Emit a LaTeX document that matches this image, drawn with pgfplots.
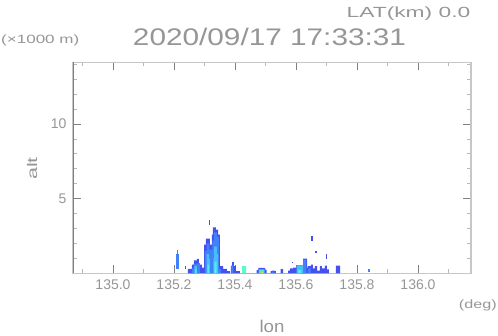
\documentclass[border=0pt]{standalone}
\usepackage{fontspec}
\setmainfont{Liberation Sans}
\usepackage{pgfplots}
\pgfplotsset{compat=1.18}
\definecolor{txt}{RGB}{150,150,150}
\definecolor{cA}{RGB}{70,80,240}
\definecolor{cB}{RGB}{65,130,250}
\definecolor{cC}{RGB}{70,190,250}
\definecolor{cD}{RGB}{80,235,240}
\definecolor{cE}{RGB}{90,250,205}
\definecolor{cF}{RGB}{110,230,100}
\definecolor{cG}{RGB}{225,230,60}
\begin{document}
\begin{tikzpicture}[x=1pt,y=1pt]
\useasboundingbox (0,0) rectangle (498,336);
\begin{axis}[
  at={(73pt,62.5pt)}, anchor=south west,
  scale only axis, width=398pt, height=211pt,
  xmin=134.8689, xmax=136.1738, ymin=0, ymax=14.1,
  xtick={135,135.2,135.4,135.6,135.8,136},
  minor xtick={134.9,135.1,135.3,135.5,135.7,135.9,136.1},
  ytick={5,10},
  minor ytick={1,2,3,4,6,7,8,9,11,12,13,14},
  /pgf/number format/assume math mode=true,
  xticklabel style={/pgf/number format/fixed, /pgf/number format/fixed zerofill, /pgf/number format/precision=1, yshift=-3pt},
  yticklabel style={xshift=-3pt},
  tick label style={font=\fontsize{14}{14}\selectfont, text=txt},
  tick align=inside, major tick length=8pt, minor tick length=4pt,
  every major tick/.append style={draw=black!50, line width=0.6pt},
  every minor tick/.append style={draw=black!28, line width=0.6pt},
  axis line style={draw=black!22, line width=1.6pt},
  no markers,
  every axis plot/.append style={draw=none},
]
% ---- outer dark blue
\addplot[fill=cA, const plot] coordinates {
(135.2459,0.31) (135.2590,0.6) (135.2656,0.87) (135.2754,0.98) (135.2820,0.6) (135.2918,0.4)
(135.2984,1.93) (135.3049,2.33) (135.3180,1.93) (135.3246,2.6) (135.3279,3.09) (135.3377,2.93)
(135.3443,2.6) (135.3508,0.49) (135.3607,0.31) (135.3738,0.16) (135.3836,0) (135.3869,0.5)
(135.3902,0.76) (135.3967,0.5) (135.4033,0.16) (135.4164,0)
(135.4711,0.22) (135.4764,0.38) (135.4984,0.22) (135.5039,0) (135.5170,0.15) (135.5220,0.2)
(135.5300,0.15) (135.5340,0) (135.5500,0.3) (135.5580,0)
(135.5738,0.2) (135.5800,0.35) (135.5902,0.4) (135.6023,0.55) (135.6230,1.0) (135.6361,0.4)
(135.6393,0.49) (135.6492,0.6) (135.6557,0.35) (135.6623,0.5) (135.6689,0.2) (135.6787,0.5)
(135.6852,0.35) (135.6951,0.53) (135.7016,0.27) (135.7082,0) (135.7311,0.53) (135.7443,0)
} \closedcycle;
% ---- medium blue
\addplot[fill=cB, const plot] coordinates {
(135.2590,0.35) (135.2656,0.65) (135.2787,0.7) (135.2852,0) (135.3016,1.5) (135.3066,2.0)
(135.3164,1.6) (135.3262,2.2) (135.3311,2.75) (135.3410,2.45) (135.3475,0.3) (135.3541,0)
(135.3885,0.55) (135.3950,0)
(135.4764,0.3) (135.4984,0) (135.5220,0.12) (135.5280,0)
(135.6230,0.93) (135.6340,0) (135.6400,0.35) (135.6480,0)
} \closedcycle;
% ---- light blue
\addplot[fill=cC, const plot] coordinates {
(135.2672,0.5) (135.2754,0) (135.3066,1.3) (135.3148,1.0) (135.3180,0) (135.3295,1.0)
(135.3311,1.8) (135.3410,1.3) (135.3443,0)
(135.4790,0.26) (135.4960,0) (135.6023,0.5) (135.6230,0)
} \closedcycle;
% ---- cyan
\addplot[fill=cD, const plot] coordinates {
(135.2689,0.3) (135.2738,0) (135.3098,0.6) (135.3148,0) (135.3327,0.8) (135.3394,0)
(135.4800,0.24) (135.4950,0) (135.6060,0.25) (135.6180,0)
} \closedcycle;
% ---- aquamarine
\addplot[fill=cE, const plot] coordinates {
(135.2705,0.15) (135.2738,0) (135.3344,0.25) (135.3377,0) (135.4230,0.5) (135.4361,0)
} \closedcycle;
% ---- green / yellow
\addplot[fill=cF, const plot] coordinates {(135.4836,0.2) (135.4951,0)} \closedcycle;
\addplot[fill=cG, const plot] coordinates {(135.4869,0.11) (135.4918,0)} \closedcycle;
% ---- isolated cells
\addplot[fill=cB] coordinates {(135.2066,0.27) (135.2164,0.27) (135.2164,1.27) (135.2066,1.27)} -- cycle;
\addplot[fill=cB] coordinates {(135.2098,1.27) (135.2131,1.27) (135.2131,1.6) (135.2098,1.6)} -- cycle;
\addplot[fill=cA] coordinates {(135.2361,0.33) (135.2393,0.33) (135.2393,0.53) (135.2361,0.53)} -- cycle;
\addplot[fill=cA] coordinates {(135.3148,3.25) (135.3180,3.25) (135.3180,3.55) (135.3148,3.55)} -- cycle;
\addplot[fill=cA] coordinates {(135.5885,0.7) (135.5918,0.7) (135.5918,0.8) (135.5885,0.8)} -- cycle;
\addplot[fill=cA] coordinates {(135.6492,2.2) (135.6557,2.2) (135.6557,2.5) (135.6492,2.5)} -- cycle;
\addplot[fill=cA] coordinates {(135.6623,1.38) (135.6689,1.38) (135.6689,1.53) (135.6623,1.53)} -- cycle;
\addplot[fill=cA] coordinates {(135.6984,1.0) (135.7016,1.0) (135.7016,1.27) (135.6984,1.27)} -- cycle;
\addplot[fill=cB] coordinates {(135.8361,0.07) (135.8426,0.07) (135.8426,0.27) (135.8361,0.27)} -- cycle;
\end{axis}
\draw[black!50, line width=0.7pt] (73,62.5) -- (73,273.5);
\node[anchor=base east, text=txt, inner sep=0] at (470.5,318.7) {\scalebox{1.55}[1]{\fontsize{14.7}{15}\selectfont LAT(km) 0.0}};
\node[anchor=base west, text=txt, inner sep=0] at (1,292.5) {\scalebox{1.42}[1]{\fontsize{12}{12}\selectfont (×1000 m)}};
\node[anchor=base, text=txt, inner sep=0] at (269.5,290.3) {\scalebox{1.24}[1]{\fontsize{24}{24}\selectfont 2020/09/17 17:33:31}};
\node[anchor=base east, text=txt, inner sep=0] at (497,27.5) {\scalebox{1.35}[1]{\fontsize{12}{12}\selectfont (deg)}};
\node[anchor=base, text=txt, inner sep=0] at (272,3) {\scalebox{1.1}[1]{\fontsize{17}{17}\selectfont lon}};
\node[rotate=90, anchor=base, text=txt, inner sep=0] at (37,167.5) {\scalebox{1.55}[1]{\fontsize{14}{14}\selectfont alt}};
\end{tikzpicture}
\end{document}
